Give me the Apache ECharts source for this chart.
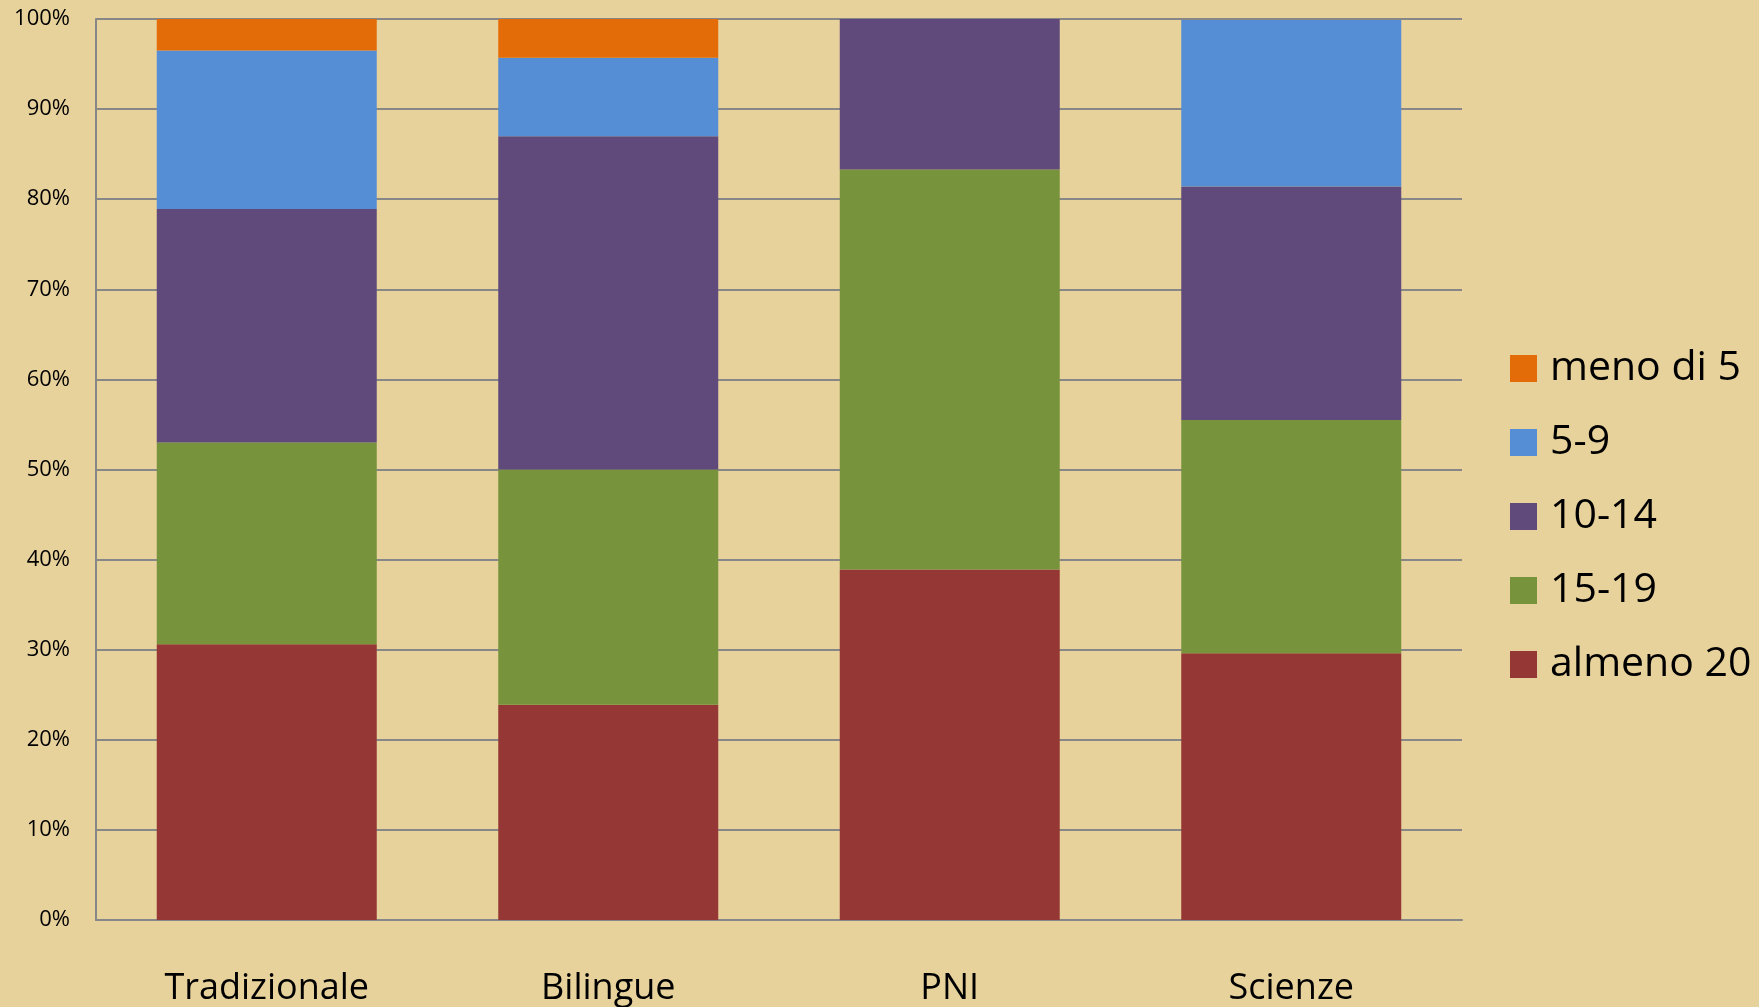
<!DOCTYPE html>
<html>
<head>
<meta charset="utf-8">
<script src="https://cdn.jsdelivr.net/npm/echarts@6/dist/echarts.min.js"></script>
<style>
html,body{margin:0;padding:0;background:#e8d29c;}
#chart{width:1759px;height:1007px;}
</style>
</head>
<body>
<div id="chart"></div>
<script>
const categories = ['Tradizionale', 'Bilingue', 'PNI', 'Scienze'];
const seriesNames = ['almeno 20', '15-19', '10-14', '5-9', 'meno di 5'];
const almeno20 = [30.6, 23.9, 38.9, 29.6];
const s15_19 = [22.4, 26.1, 44.4, 25.9];
const s10_14 = [25.9, 37.0, 16.7, 25.9];
const s5_9 = [17.6, 8.7, 0, 18.5];
const meno5 = [3.5, 4.3, 0, 0];
const yTicks = [0, 10, 20, 30, 40, 50, 60, 70, 80, 90, 100];
const colors = ['#953735', '#77933C', '#604A7B', '#558ED5', '#E36C09'];
const values = [almeno20, s15_19, s10_14, s5_9, meno5];

const chart = echarts.init(document.getElementById('chart'));
const FONT = '"Open Sans", sans-serif';
chart.setOption({
  backgroundColor: '#e8d29c',
  animation: false,
  grid: { left: 96, right: 297, top: 19, bottom: 86, containLabel: false },
  legend: {
    orient: 'vertical',
    left: 1505,
    top: 343,
    itemWidth: 27,
    itemHeight: 27,
    itemGap: 33,
    icon: 'rect',
    data: seriesNames.slice().reverse(),
    textStyle: { fontFamily: FONT, fontSize: 41, lineHeight: 41, color: '#000', padding: [0, 0, 0, 8] }
  },
  xAxis: {
    type: 'category',
    data: categories,
    axisLine: { show: true, lineStyle: { color: '#878787', width: 2 } },
    axisTick: { show: false },
    axisLabel: { fontFamily: FONT, fontSize: 36, lineHeight: 36, color: '#000', margin: 51 }
  },
  yAxis: {
    type: 'value',
    min: 0,
    max: 100,
    interval: 10,
    axisLine: { show: true, lineStyle: { color: '#878787', width: 2 } },
    axisTick: { show: false },
    splitLine: { show: true, lineStyle: { color: '#878787', width: 2 } },
    axisLabel: {
      fontFamily: FONT, fontSize: 22, color: '#000', margin: 26,
      formatter: v => (yTicks.includes(v) ? v + '%' : '')
    }
  },
  series: seriesNames.map((name, i) => ({
    name: name,
    type: 'bar',
    stack: 'total',
    barWidth: 220,
    data: values[i],
    itemStyle: { color: colors[i] }
  }))
});
</script>
</body>
</html>
